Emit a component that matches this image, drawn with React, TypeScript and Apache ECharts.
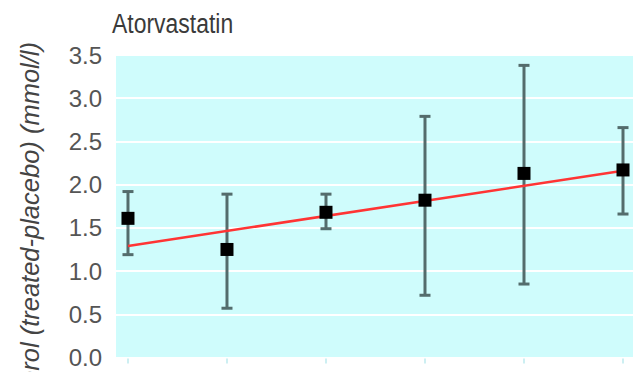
import React, { useEffect, useRef } from "react";
import * as echarts from "echarts";

// Dose groups (positions along the x axis)
const doseGroups = [1, 2, 3, 4, 5, 6];
// Mean difference, treated minus placebo (mmol/l)
const meanDiff = [1.61, 1.25, 1.68, 1.82, 2.13, 2.17];
// Lower and upper limits of the error bars
const lowerLimit = [1.19, 0.57, 1.49, 0.72, 0.85, 1.66];
const upperLimit = [1.92, 1.89, 1.89, 2.79, 3.38, 2.66];
// Fitted regression line, end points [group, value]
const fitLine = [
  [1, 1.29],
  [6, 2.16],
];
const titleText = "Atorvastatin";
const yAxisTitle = "LDL cholesterol (treated-placebo) (mmol/l)";

export default function App() {
  const ref = useRef<HTMLDivElement>(null);

  useEffect(() => {
    if (!ref.current) return;
    const chart = echarts.init(ref.current, undefined, { renderer: "svg" });

    const barStyle = { stroke: "#546c6c", lineWidth: 3 };

    chart.setOption({
      animation: false,
      backgroundColor: "#ffffff",
      grid: {
        left: 116,
        right: 0,
        top: 55,
        bottom: 14.5,
        show: true,
        backgroundColor: "#cffcfc",
        borderWidth: 0,
      },
      xAxis: {
        type: "value",
        min: 0.879,
        max: 6.101,
        show: false,
      },
      yAxis: {
        type: "value",
        min: 0,
        max: 3.5,
        interval: 0.5,
        axisLine: { show: false },
        axisTick: { show: false },
        axisLabel: {
          margin: 14,
          fontSize: 24,
          fontFamily: "'Liberation Sans', Arial, sans-serif",
          color: "#555555",
          formatter: (v: number) => v.toFixed(1),
        },
        splitLine: { lineStyle: { color: "#ffffff", width: 2 } },
      },
      graphic: [
        {
          // condensed chart heading
          type: "text",
          x: 112,
          y: 23,
          scaleX: 0.85,
          style: {
            text: titleText,
            fontSize: 27,
            fontFamily: "'Liberation Sans', Arial, sans-serif",
            fill: "#3a3a3a",
            align: "left",
            verticalAlign: "middle",
          },
        },
        {
          // rotated y axis title
          type: "text",
          x: 30,
          y: 42,
          rotation: Math.PI / 2,
          style: {
            text: yAxisTitle,
            fontSize: 25.5,
            fontStyle: "italic",
            fontFamily: "'Liberation Sans', Arial, sans-serif",
            fill: "#444444",
            align: "right",
            verticalAlign: "middle",
          },
        },
      ],
      series: [
        {
          type: "custom",
          z: 2,
          clip: false,
          data: doseGroups.map((g, i) => [g, lowerLimit[i], upperLimit[i]]),
          encode: { x: 0, y: [1, 2] },
          renderItem: (_params: any, api: any) => {
            const x = api.value(0);
            const lo = api.coord([x, api.value(1)]);
            const hi = api.coord([x, api.value(2)]);
            const base = api.coord([x, 0]);
            const half = 5.5;
            return {
              type: "group",
              children: [
                {
                  type: "line",
                  shape: { x1: lo[0], y1: lo[1], x2: hi[0], y2: hi[1] },
                  style: barStyle,
                },
                {
                  type: "line",
                  shape: { x1: lo[0] - half, y1: lo[1], x2: lo[0] + half, y2: lo[1] },
                  style: barStyle,
                },
                {
                  type: "line",
                  shape: { x1: hi[0] - half, y1: hi[1], x2: hi[0] + half, y2: hi[1] },
                  style: barStyle,
                },
                {
                  type: "line",
                  shape: { x1: base[0], y1: base[1] + 1, x2: base[0], y2: base[1] + 6 },
                  style: { stroke: "#cdeff2", lineWidth: 2 },
                },
              ],
            };
          },
        },
        {
          type: "line",
          z: 3,
          data: fitLine,
          showSymbol: false,
          lineStyle: { color: "#ff3434", width: 2.5 },
        },
        {
          type: "scatter",
          z: 4,
          data: doseGroups.map((g, i) => [g, meanDiff[i]]),
          symbol: "rect",
          symbolSize: 13,
          itemStyle: { color: "#000000", opacity: 1 },
        },
      ],
    });

    return () => chart.dispose();
  }, []);

  return (
    <div
      ref={ref}
      style={{ position: "fixed", left: 0, top: 0, width: 633, height: 372 }}
    />
  );
}
